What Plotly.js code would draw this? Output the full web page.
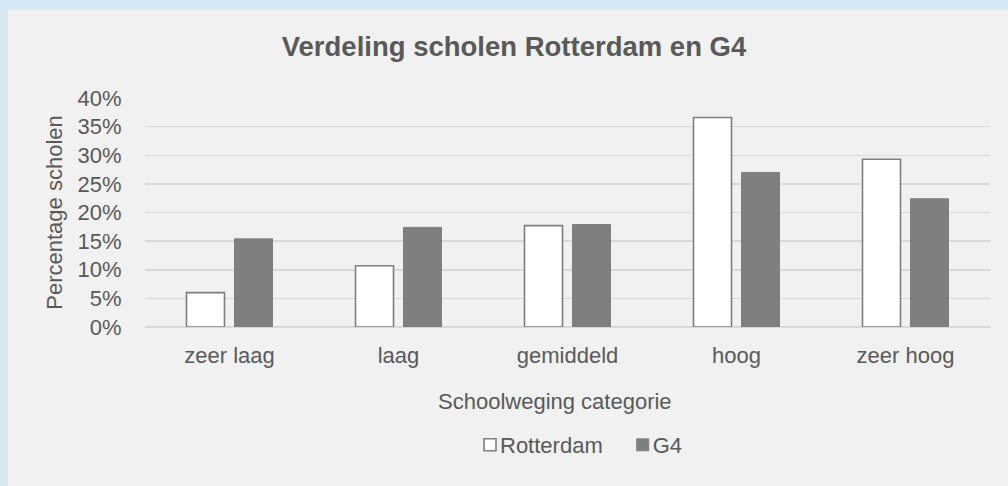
<!DOCTYPE html>
<html>
<head>
<meta charset="utf-8">
<script src="https://cdn.plot.ly/plotly-3.0.1.min.js"></script>
<style>
  html, body { margin: 0; padding: 0; background: #d5e9f5; width: 1008px; height: 486px; overflow: hidden; }
  #chart { position: absolute; left: 8px; top: 10px; width: 1000px; height: 476px; }
</style>
</head>
<body>
<div id="chart"></div>
<script>
const categories = ["zeer laag", "laag", "gemiddeld", "hoog", "zeer hoog"];
const rotterdam = [0.060, 0.107, 0.177, 0.366, 0.293];
const g4 = [0.154, 0.174, 0.179, 0.270, 0.224];
const yTickVals = [0, 0.05, 0.10, 0.15, 0.20, 0.25, 0.30, 0.35, 0.40];
const yTickText = ["0%", "5%", "10%", "15%", "20%", "25%", "30%", "35%", "40%"];
const titleText = "Verdeling scholen Rotterdam en G4";
const xTitle = "Schoolweging categorie";
const yTitle = "Percentage scholen";

const txt = "#595959";
const font = "Liberation Sans, Arial, sans-serif";

const traces = [
  { type: "bar", name: "Rotterdam", x: categories, y: rotterdam,
    marker: { color: "#ffffff", line: { color: "#7f7f7f", width: 1.6 } } },
  { type: "bar", name: "G4", x: categories, y: g4,
    marker: { color: "#7f7f7f", line: { color: "#7f7f7f", width: 1 } } }
];

const layout = {
  width: 1000, height: 476,
  paper_bgcolor: "#f1f1f1", plot_bgcolor: "#f1f1f1",
  margin: { l: 137, r: 18, t: 88, b: 159 },
  font: { family: font, color: txt, size: 22 },
  barmode: "group", bargap: 0.432, bargroupgap: 0.208,
  title: { text: "<b>" + titleText + "</b>", font: { size: 27.5, color: txt, family: font },
           x: 0.506, xref: "container", xanchor: "center", y: 1 - 36/476, yref: "container", yanchor: "middle" },
  xaxis: { type: "category", showgrid: false, showline: false, zeroline: false,
           ticks: "outside", ticklen: 9, tickcolor: "rgba(0,0,0,0)",
           tickfont: { size: 22, color: txt } },
  yaxis: { range: [0, 0.4], tickvals: yTickVals, ticktext: yTickText,
           showgrid: true, gridcolor: "#d9d9d9", gridwidth: 1.5,
           zeroline: true, zerolinecolor: "#d9d9d9", zerolinewidth: 1.5, showline: false,
           ticks: "outside", ticklen: 18, tickcolor: "rgba(0,0,0,0)",
           tickfont: { size: 22, color: txt },
           title: { text: yTitle, font: { size: 22, color: txt }, standoff: 8 } },
  annotations: [
    { text: xTitle, xref: "paper", yref: "paper", x: (547 - 137) / 845, y: (317 - 391) / 229,
      xanchor: "center", yanchor: "middle", showarrow: false, font: { size: 22, color: txt } }
  ],
  showlegend: true,
  legend: { orientation: "h", xref: "container", yref: "container", x: 0.462, xanchor: "left",
            y: 1 - 435/476, yanchor: "middle", bgcolor: "rgba(0,0,0,0)",
            font: { size: 22, color: txt }, itemclick: false, itemdoubleclick: false }
};

Plotly.newPlot("chart", traces, layout, { displayModeBar: false, staticPlot: true }).then(function () {
  document.querySelectorAll("#chart .legendtext").forEach(function (t) {
    const x = parseFloat(t.getAttribute("x") || "40");
    t.setAttribute("x", x - 10);
  });
  const items = document.querySelectorAll("#chart .legend .traces");
  if (items.length > 1) {
    const tr = items[1].getAttribute("transform") || "";
    items[1].setAttribute("transform", tr + " translate(5,0)");
  }
});
</script>
</body>
</html>
